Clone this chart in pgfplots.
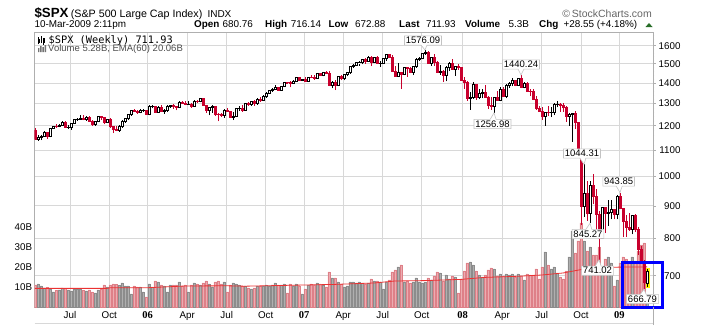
\documentclass[border=0pt]{standalone}
\usepackage{fontspec}
\setmainfont{Liberation Sans}
\newfontfamily\monofont{DejaVu Sans Mono}
\newfontfamily\yearfont{Liberation Serif}
\usepackage{pgfplots}
\pgfplotsset{compat=1.18}
\usepackage{pgfplotstable}
\usetikzlibrary{shapes.callouts}
\definecolor{candlered}{RGB}{200,0,45}
\definecolor{volgray}{RGB}{175,175,175}
\definecolor{volgrayd}{RGB}{140,140,140}
\definecolor{volpink}{RGB}{236,172,177}
\definecolor{volpinkd}{RGB}{222,128,136}
\definecolor{emared}{RGB}{235,50,50}
\definecolor{gridgray}{RGB}{216,216,216}
\definecolor{yeargrid}{RGB}{170,170,170}
\definecolor{framegray}{RGB}{175,175,175}
\definecolor{lblgray}{RGB}{195,195,195}
\definecolor{chggreen}{RGB}{40,110,40}

\pgfplotstableread{
i O H L C V
1 1142.6 1159.0 1136.2 1152.1 11.5
2 1152.1 1162.0 1139.6 1156.9 10.5
3 1156.9 1178.5 1154.0 1171.4 9.5
5 1154.1 1191.1 1150.5 1189.3 9.0
6 1189.3 1199.6 1185.5 1198.8 7.5
8 1196.0 1206.0 1192.5 1200.9 8.5
9 1200.9 1219.6 1198.0 1217.0 9.6
11 1191.6 1203.1 1185.4 1194.4 8.6
12 1194.4 1212.7 1183.5 1211.9 8.0
13 1211.9 1229.0 1210.0 1227.9 9.0
14 1227.9 1235.0 1222.0 1229.0 9.0
15 1229.0 1245.2 1225.5 1234.2 9.0
17 1226.4 1242.5 1221.0 1237.8 8.0
20 1205.1 1221.5 1201.0 1218.0 7.0
21 1218.0 1243.1 1215.0 1241.5 8.5
24 1215.3 1229.9 1211.0 1228.8 10.0
28 1179.6 1202.8 1175.4 1198.4 10.8
29 1198.4 1224.7 1191.0 1220.1 12.0
30 1220.1 1236.0 1214.0 1234.7 10.5
31 1234.7 1249.6 1225.0 1248.3 10.5
32 1248.3 1270.6 1245.0 1268.3 6.5
35 1259.4 1275.8 1255.0 1267.3 10.0
36 1267.3 1275.0 1262.0 1268.7 7.5
38 1248.3 1290.8 1245.7 1285.5 11.5
39 1285.5 1294.9 1277.0 1287.6 10.0
41 1261.5 1286.4 1259.4 1283.7 12.5
43 1264.0 1275.5 1253.0 1267.0 10.5
44 1267.0 1294.2 1260.0 1287.2 7.5
45 1287.2 1294.2 1278.0 1289.4 11.0
48 1281.4 1310.9 1279.0 1307.3 12.5
51 1294.8 1311.0 1293.0 1295.5 7.5
53 1289.1 1318.2 1284.0 1311.3 12.0
55 1310.6 1326.7 1305.0 1325.8 11.0
58 1267.0 1282.0 1245.3 1280.2 11.5
59 1280.2 1290.7 1258.0 1288.2 10.0
63 1244.5 1272.8 1234.0 1270.2 12.5
66 1236.2 1261.0 1224.5 1240.3 12.0
67 1240.3 1280.0 1238.0 1278.6 11.5
68 1278.6 1287.9 1265.0 1279.4 11.0
70 1266.7 1304.0 1266.0 1302.3 10.5
72 1295.1 1312.0 1290.0 1311.0 9.0
74 1298.9 1323.6 1294.0 1319.7 10.5
76 1314.8 1339.2 1311.0 1335.9 10.5
77 1335.9 1353.8 1327.0 1349.6 11.0
78 1349.6 1366.6 1344.0 1365.6 10.5
79 1365.6 1372.0 1356.0 1368.6 11.0
80 1368.6 1389.5 1366.0 1377.3 12.0
82 1364.3 1385.0 1360.0 1380.9 11.0
83 1380.9 1404.0 1379.0 1401.2 11.5
86 1396.7 1415.0 1395.0 1409.8 10.5
87 1409.8 1431.6 1405.0 1427.1 11.5
89 1410.8 1420.0 1409.0 1418.3 6.5
91 1409.7 1432.0 1405.0 1430.7 11.0
94 1422.2 1449.0 1420.0 1448.4 12.0
96 1438.1 1457.0 1433.0 1455.5 11.0
99 1387.2 1410.0 1373.0 1402.8 14.5
101 1387.0 1437.0 1385.0 1436.1 12.5
103 1420.9 1444.0 1412.0 1443.8 10.0
104 1443.8 1453.0 1433.0 1452.9 10.5
105 1452.9 1484.7 1447.0 1484.4 12.5
106 1484.4 1498.0 1476.0 1494.1 12.5
107 1494.1 1510.3 1490.0 1505.6 12.0
108 1505.6 1513.8 1489.0 1505.9 12.5
109 1505.9 1522.9 1496.0 1522.8 12.0
111 1515.7 1540.6 1510.0 1536.3 12.0
113 1507.7 1538.7 1505.0 1532.9 13.0
115 1502.6 1517.0 1484.0 1503.4 12.5
116 1503.4 1533.0 1503.0 1530.4 9.0
117 1530.4 1555.1 1517.0 1552.5 12.5
121 1433.1 1503.9 1430.0 1453.6 20.0
123 1445.9 1480.0 1440.0 1479.4 12.5
126 1453.6 1486.0 1440.0 1484.3 12.5
127 1484.3 1530.0 1477.0 1525.8 14.5
128 1525.8 1538.7 1517.0 1526.8 12.5
129 1526.8 1561.0 1523.0 1557.6 12.0
130 1557.6 1576.1 1548.0 1561.8 12.5
132 1500.6 1537.0 1490.0 1535.3 13.5
135 1453.7 1492.0 1441.0 1458.7 17.0
137 1440.7 1488.9 1407.0 1481.1 16.0
138 1481.1 1510.0 1460.0 1504.7 14.0
140 1468.0 1485.0 1435.6 1484.5 15.0
145 1325.2 1355.0 1270.1 1330.6 22.5
146 1330.6 1406.0 1321.0 1395.4 21.0
148 1331.3 1368.0 1320.0 1350.0 16.0
149 1350.0 1371.0 1324.0 1353.1 15.0
153 1288.1 1332.0 1257.0 1329.5 19.0
155 1315.2 1380.9 1310.0 1370.4 16.5
157 1332.8 1395.0 1324.0 1390.3 16.5
158 1390.3 1404.0 1375.0 1397.8 16.0
159 1397.8 1422.7 1384.0 1413.9 16.5
161 1388.3 1425.9 1386.0 1425.4 16.5
163 1375.9 1406.0 1373.0 1400.4 13.5
170 1239.5 1263.0 1200.4 1260.7 27.5
172 1257.8 1284.0 1238.0 1260.3 19.0
173 1260.3 1300.0 1247.0 1296.3 20.0
174 1296.3 1313.2 1282.0 1298.2 17.0
178 1242.3 1255.0 1201.0 1251.7 25.0
179 1251.7 1255.2 1133.5 1255.1 38.0
183 899.2 1044.3 865.8 940.6 33.0
185 876.8 984.4 845.3 968.8 30.0
189 800.0 896.2 800.0 896.2 18.0
191 876.1 918.9 837.9 879.7 25.0
192 879.7 918.9 857.0 887.9 22.0
194 872.8 934.7 857.3 931.8 13.5
199 825.9 870.8 812.0 868.6 25.0
204 680.8 716.1 672.9 711.9 5.28
}\upweeks

\pgfplotstableread{
i O H L C V
0 1181.2 1191.9 1141.9 1142.6 11.0
4 1171.4 1174.5 1146.2 1154.1 9.8
7 1198.8 1205.6 1191.6 1196.0 8.2
10 1217.0 1219.1 1191.0 1191.6 9.2
16 1234.2 1245.9 1223.0 1226.4 8.4
18 1237.8 1241.0 1215.5 1219.7 8.5
19 1219.7 1227.0 1201.0 1205.1 7.5
22 1241.5 1243.1 1225.5 1237.9 8.8
23 1237.9 1238.0 1205.5 1215.3 11.0
25 1228.8 1233.5 1191.0 1195.9 11.0
26 1195.9 1197.0 1168.2 1186.6 11.5
27 1186.6 1197.3 1176.0 1179.6 11.3
33 1268.3 1272.9 1260.0 1265.1 10.5
34 1265.1 1270.0 1252.0 1259.4 10.0
37 1268.7 1271.8 1246.6 1248.3 5.0
40 1287.6 1290.0 1260.0 1261.5 13.0
42 1283.7 1294.9 1261.0 1264.0 11.0
46 1289.4 1297.6 1276.0 1287.2 11.0
47 1287.2 1290.0 1268.0 1281.4 11.0
49 1307.3 1310.0 1297.0 1303.0 10.5
50 1303.0 1310.0 1291.0 1294.8 11.0
52 1295.5 1300.0 1280.0 1289.1 11.0
54 1311.3 1317.7 1300.0 1310.6 11.5
56 1325.8 1326.7 1288.0 1291.2 12.0
57 1291.2 1294.0 1256.6 1267.0 13.0
60 1288.2 1288.5 1245.0 1252.3 12.5
61 1252.3 1257.0 1219.3 1251.5 13.0
62 1251.5 1258.5 1238.0 1244.5 11.5
64 1270.2 1280.4 1262.0 1265.5 7.5
65 1265.5 1266.0 1235.0 1236.2 11.0
69 1279.4 1292.0 1262.0 1266.7 10.5
71 1302.3 1305.0 1290.0 1295.1 9.5
73 1311.0 1315.0 1290.0 1298.9 9.5
75 1319.7 1328.5 1308.0 1314.8 10.5
81 1377.3 1381.0 1360.0 1364.3 11.0
84 1401.2 1406.3 1396.0 1401.0 7.0
85 1401.0 1407.0 1377.8 1396.7 11.5
88 1427.1 1429.0 1409.0 1410.8 10.5
90 1418.3 1429.4 1403.0 1409.7 9.0
92 1430.7 1441.6 1424.0 1430.5 11.5
93 1430.5 1440.0 1416.0 1422.2 11.0
95 1448.4 1453.0 1434.0 1438.1 11.5
97 1455.5 1461.6 1447.0 1451.2 10.0
98 1451.2 1459.6 1384.0 1387.2 17.5
100 1402.8 1412.0 1363.9 1387.0 14.5
102 1436.1 1438.0 1413.0 1420.9 11.5
110 1522.8 1530.0 1500.0 1515.7 11.5
112 1536.3 1540.0 1487.0 1507.7 14.0
114 1532.9 1540.0 1500.0 1502.6 13.0
118 1552.5 1555.9 1530.0 1534.1 13.5
119 1534.1 1547.0 1458.0 1459.0 17.5
120 1459.0 1488.0 1433.0 1433.1 18.5
122 1453.6 1456.0 1370.6 1445.9 21.0
124 1479.4 1482.0 1432.0 1474.0 13.0
125 1474.0 1481.0 1449.0 1453.6 12.0
131 1561.8 1568.0 1500.0 1500.6 14.5
133 1535.3 1552.8 1490.0 1509.7 15.5
134 1509.7 1516.0 1450.0 1453.7 17.5
136 1458.7 1464.0 1406.0 1440.7 13.0
139 1504.7 1523.6 1467.0 1468.0 15.5
141 1484.5 1498.9 1467.0 1478.5 7.0
142 1478.5 1479.0 1411.0 1411.6 14.0
143 1411.6 1429.0 1370.0 1401.0 18.0
144 1401.0 1409.0 1312.0 1325.2 22.0
147 1395.4 1396.0 1316.8 1331.3 18.0
150 1353.1 1388.0 1325.0 1330.6 16.0
151 1330.6 1335.0 1274.0 1293.4 18.5
152 1293.4 1333.0 1272.0 1288.1 19.5
154 1329.5 1359.0 1312.0 1315.2 15.5
156 1370.4 1380.0 1330.0 1332.8 15.5
160 1413.9 1416.0 1382.0 1388.3 15.0
162 1425.4 1440.2 1373.0 1375.9 15.5
164 1400.4 1404.0 1356.0 1360.7 16.5
165 1360.7 1370.0 1335.0 1360.0 16.0
166 1360.0 1368.0 1317.0 1317.9 16.0
167 1317.9 1334.0 1272.0 1278.4 19.0
168 1278.4 1290.0 1261.0 1262.9 14.0
169 1262.9 1285.0 1225.0 1239.5 20.0
171 1260.7 1287.0 1244.0 1257.8 21.0
175 1298.2 1300.0 1261.0 1292.2 15.0
176 1292.2 1303.0 1262.0 1282.8 14.0
177 1282.8 1288.0 1217.0 1242.3 18.0
180 1255.1 1265.0 1187.0 1213.3 27.0
181 1213.3 1215.0 1097.0 1099.2 33.0
182 1099.2 1099.2 839.8 899.2 42.0
184 940.6 985.4 852.9 876.8 28.0
186 968.8 1007.5 904.9 931.0 26.0
187 931.0 954.4 818.7 873.3 26.0
188 873.3 882.3 741.0 800.0 30.0
190 896.2 896.2 815.7 876.1 24.0
193 887.9 887.9 857.1 872.8 10.5
195 931.8 943.9 888.3 890.4 22.0
196 890.4 890.4 804.3 850.1 25.0
197 850.1 871.5 805.2 832.0 24.0
198 832.0 877.9 821.7 825.9 22.0
200 868.6 875.0 818.4 826.8 23.0
201 826.8 835.0 754.3 770.1 28.0
202 770.1 780.0 731.3 735.1 31.0
203 735.1 740.0 666.8 683.4 32.0
}\downweeks

\pgfplotsset{
  axbase/.style={at={(34.7pt,18pt)}, anchor=south west, scale only axis,
    width=618.3pt, height=274.3pt, xmin=-0.1, xmax=206},
  upwick/.style={draw=none, mark=none, forget plot,
    error bars/y dir=plus, error bars/y explicit,
    error bars/draw error bar/.code 2 args={\draw[black, line width=0.6pt] ##1 -- ##2;}},
  downwick/.style={draw=none, mark=none, forget plot,
    error bars/y dir=plus, error bars/y explicit,
    error bars/draw error bar/.code 2 args={\draw[candlered, line width=0.6pt] ##1 -- ##2;}},
  upbody/.style={draw=none, mark=none, forget plot,
    error bars/y dir=plus, error bars/y explicit,
    error bars/draw error bar/.code 2 args={\path ##1 coordinate (cba) ##2 coordinate (cbb);
      \filldraw[fill=white, draw=black, line width=0.55pt] ([xshift=-1.05pt]cba) rectangle ([xshift=1.05pt]cbb);}},
  downbody/.style={draw=none, mark=none, forget plot,
    error bars/y dir=plus, error bars/y explicit,
    error bars/draw error bar/.code 2 args={\path ##1 coordinate (cba) ##2 coordinate (cbb);
      \filldraw[fill=candlered, draw=candlered, line width=0.55pt] ([xshift=-1.05pt]cba) rectangle ([xshift=1.05pt]cbb);}},
}
\tikzset{
  lbl/.style={rectangle callout, draw=lblgray, fill=white, line width=0.6pt,
    inner xsep=1.3pt, inner ysep=1.2pt, font=\fontsize{9.5}{10}\selectfont,
    callout pointer width=6pt},
}

\begin{document}
\begin{tikzpicture}

% grid / price axis frame
\begin{axis}[axbase,
  ymode=log, ymin=625.5, ymax=1677,
  xtick={11.67,24.77,50.77,63.9,76.9,102.77,115.9,128.9,155.77,168.9,182},
  xticklabels={Jul,Oct,Apr,Jul,Oct,Apr,Jul,Oct,Apr,Jul,Oct},
  extra x ticks={37.57,89.67,142.5,194.83},
  extra x tick labels={06,07,08,09},
  extra x tick style={grid style={draw=yeargrid, line width=0.6pt},
     xticklabel style={font=\yearfont\bfseries\fontsize{10.5}{11}\selectfont}},
  ytick={700,800,900,1000,1100,1200,1300,1400,1500,1600},
  yticklabels={700,800,900,1000,1100,1200,1300,1400,1500,1600},
  minor ytick={640,660,680,720,740,760,780,820,840,860,880,920,940,960,980,1020,1040,1060,1080,1120,1140,1160,1180,1220,1240,1260,1280,1320,1340,1360,1380,1420,1440,1460,1480,1520,1540,1560,1580,1620,1640,1660},
  yticklabel pos=right, ytick pos=right,
  grid=major, major grid style={draw=gridgray, line width=0.6pt},
  axis line style={draw=framegray, line width=0.7pt},
  tick align=outside, major tick length=2.5pt, minor tick length=1.3pt,
  xtick style={draw=none}, ytick style={draw=framegray, line width=0.5pt},
  tick label style={font=\fontsize{9.8}{10}\selectfont},
  xticklabel style={yshift=1.2pt},
  yticklabel style={align=right, text width=22pt, xshift=-0.5pt},
]
\end{axis}

% volume axis
\begin{axis}[axbase, ymin=0, ymax=137.1,
  axis line style={draw=none}, xtick=\empty,
  ytick={10,20,30,40}, yticklabels={10B,20B,30B,40B},
  ytick style={draw=none},
  yticklabel style={font=\fontsize{9.8}{10}\selectfont, xshift=1pt},
]
\addplot[ybar, bar width=0.8, bar shift=0pt, fill=volgray, draw=volgrayd, line width=0.3pt]
  table[x=i, y=V] {\upweeks};
\addplot[ybar, bar width=0.8, bar shift=0pt, fill=volpink, draw=volpinkd, line width=0.3pt]
  table[x=i, y=V] {\downweeks};
\addplot[emared, line width=0.8pt, no marks] coordinates {
 (0,9.3) (24,9.3) (25,9.6) (37,9.6) (50,10.5) (64,10.6) (70,10.4) (90,11.0)
 (100,11.3) (113,12.0) (120,13.0) (130,13.2) (142,13.8) (150,14.8) (160,15.3)
 (169,16.0) (176,17.0) (182,18.7) (188,19.5) (193,19.9) (204,20.06)};
\end{axis}

% candles
\begin{axis}[axbase, ymode=log, ymin=625.5, ymax=1677, hide axis]
\fill[yellow] (axis cs:203.57,670) rectangle (axis cs:205.0,720);
\addplot[downwick] table[x=i, y=L, y error expr=\thisrow{H}-\thisrow{L}] {\downweeks};
\addplot[upwick] table[x=i, y=L, y error expr=\thisrow{H}-\thisrow{L}] {\upweeks};
\addplot[downbody] table[x=i, y=C, y error expr=\thisrow{O}-\thisrow{C}] {\downweeks};
\addplot[upbody] table[x=i, y=O, y error expr=\thisrow{C}-\thisrow{O}] {\upweeks};
\coordinate (p1) at (axis cs:130,1576.09);
\coordinate (p2) at (axis cs:162,1440.24);
\coordinate (p3) at (axis cs:153,1256.98);
\coordinate (p4) at (axis cs:183,1044.31);
\coordinate (p5) at (axis cs:195,943.85);
\coordinate (p6) at (axis cs:185,845.27);
\coordinate (p7) at (axis cs:188,741.02);
\coordinate (p8) at (axis cs:203,666.79);
\end{axis}

\begin{scope}[x=1pt,y=1pt]
% value labels
\node[lbl, callout absolute pointer={(p1)}] at (423,284.5) {1576.09};
\node[lbl, callout absolute pointer={(p2)}] at (521,260.5) {1440.24};
\node[lbl, callout absolute pointer={(p3)}] at (492.5,201) {1256.98};
\node[lbl, callout absolute pointer={(p4)}] at (582,171.5) {1044.31};
\node[lbl, callout absolute pointer={(p5)}] at (618.7,143.5) {943.85};
\node[lbl, callout absolute pointer={(p6)}] at (588,91) {845.27};
\node[lbl, callout absolute pointer={(p7)}] at (597.5,54.3) {741.02};
\node[lbl, callout absolute pointer={(p8)}] at (642.5,26) {666.79};

% highlight box
\draw[blue, line width=3pt] (622.7,17.7) rectangle (662,62.3);

% frame extras
\draw[framegray, line width=0.7pt] (653,0) -- (653,18);
\draw[gridgray, line width=0.7pt] (34.7,2) -- (653,2);

% header
\node[anchor=base west, inner sep=0, font=\bfseries\fontsize{13.3}{14}\selectfont] at (34.3,307.5) {\$SPX};
\node[anchor=base west, inner sep=0, font=\fontsize{10.7}{12}\selectfont] at (70.7,307.5) {(S\&P 500 Large Cap Index)};
\node[anchor=base west, inner sep=0, font=\fontsize{10}{12}\selectfont] at (207.3,307.5) {INDX};
\node[anchor=base east, inner sep=0, font=\fontsize{10.5}{12}\selectfont, text=black!60] at (652,308) {\textcopyright\,StockCharts.com};
\begin{scope}[every node/.style={anchor=base west, inner sep=0, font=\fontsize{9.9}{11}\selectfont}]
\node at (34.3,298) {10-Mar-2009 2:11pm};
\node at (194,298) {\textbf{Open}};
\node at (222.3,298) {680.76};
\node at (265,298) {\textbf{High}};
\node at (290.7,298) {716.14};
\node at (328.3,298) {\textbf{Low}};
\node at (355,298) {672.88};
\node at (399,298) {\textbf{Last}};
\node at (426,298) {711.93};
\node at (465,298) {\textbf{Volume}};
\node at (508.3,298) {5.3B};
\node at (539,298) {\textbf{Chg}};
\node at (563.3,298) {+28.55 (+4.18\%)};
\end{scope}
\fill[chggreen] (645.5,298) -- (652.5,298) -- (649,302) -- cycle;

% legend
\draw[black, line width=0.6pt] (38.5,281) -- (38.5,288) (41,282) -- (41,289) (43.5,280.5) -- (43.5,287.5);
\draw[black, line width=0.5pt, fill=white] (37.8,283) rectangle (39.2,286);
\draw[black, line width=0.5pt, fill=black] (42.8,283) rectangle (44.2,286.5);
\fill[black!55] (38,273) rectangle (39.4,277) (40.2,273) rectangle (41.6,279) (42.4,273) rectangle (43.8,278) (44.6,273) rectangle (46,280);
\node[anchor=base west, inner sep=0, font=\monofont\fontsize{10.3}{11}\selectfont] at (48.5,282) {\$SPX (Weekly) 711.93};
\node[anchor=base west, inner sep=0, font=\fontsize{9.5}{10}\selectfont, text=black!70] at (48,273) {Volume 5.28B, EMA(60) 20.06B};

\pgfresetboundingbox
\useasboundingbox (0,0) rectangle (705,325);
\end{scope}
\end{tikzpicture}
\end{document}
